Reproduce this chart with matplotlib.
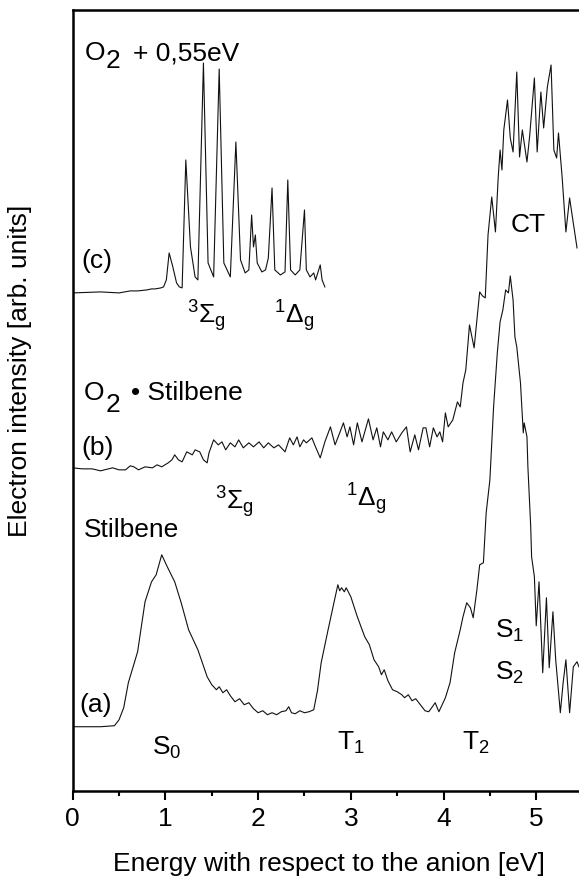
import matplotlib.pyplot as plt
from matplotlib.ticker import MultipleLocator

plt.rcParams['font.family'] = ['Liberation Sans', 'DejaVu Sans']
plt.rcParams['mathtext.fontset'] = 'custom'
plt.rcParams['mathtext.rm'] = 'Liberation Sans'
plt.rcParams['mathtext.it'] = 'Liberation Sans:italic'
plt.rcParams['mathtext.bf'] = 'Liberation Sans:bold'

# (a) stilbene anion photoelectron spectrum
stil_e = [0.00, 0.30, 0.45, 0.50, 0.55, 0.60, 0.70, 0.78, 0.85, 0.90, 0.96, 1.02,
          1.10, 1.17, 1.25, 1.35, 1.45, 1.50, 1.55, 1.58, 1.62, 1.66, 1.70, 1.75,
          1.80, 1.85, 1.90, 1.95, 2.00, 2.05, 2.10, 2.15, 2.20, 2.25, 2.30, 2.33,
          2.36, 2.40, 2.45, 2.50, 2.55, 2.60, 2.64, 2.68, 2.75, 2.82, 2.86, 2.88,
          2.90, 2.93, 2.95, 3.00, 3.07, 3.15, 3.20, 3.25, 3.30, 3.33, 3.36, 3.40,
          3.45, 3.50, 3.55, 3.58, 3.62, 3.66, 3.70, 3.75, 3.80, 3.84, 3.88, 3.91,
          3.95, 4.02, 4.07, 4.12, 4.18, 4.21, 4.25, 4.29, 4.32, 4.36, 4.39, 4.43,
          4.46, 4.50, 4.54, 4.58, 4.61, 4.64, 4.67, 4.70, 4.72, 4.75, 4.77, 4.79,
          4.83, 4.86, 4.87, 4.90, 4.91, 4.94, 4.95, 4.98, 5.00, 5.03, 5.07, 5.11,
          5.14, 5.18, 5.21, 5.26, 5.29, 5.32, 5.36, 5.40, 5.44, 5.46]
stil_i = [64, 64, 65, 71, 83, 108, 139, 189, 209, 216, 236, 224,
          209, 188, 161, 141, 114, 106, 101, 104, 98, 101, 95, 89,
          92, 86, 88, 82, 78, 80, 76, 78, 76, 79, 80, 84,
          78, 77, 80, 78, 79, 81, 100, 128, 159, 189, 206, 200,
          203, 199, 203, 194, 174, 154, 146, 131, 124, 116, 121, 110,
          101, 99, 96, 93, 96, 90, 92, 86, 80, 79, 84, 88,
          79, 93, 108, 138, 161, 174, 188, 183, 173, 201, 226, 228,
          278, 311, 384, 438, 469, 481, 501, 498, 515, 491, 454, 444,
          408, 358, 368, 354, 324, 265, 234, 214, 165, 209, 118, 193,
          123, 179, 131, 78, 108, 131, 78, 124, 129, 124]

# (b) O2-stilbene complex
o2stil_e = [0.00, 0.10, 0.21, 0.30, 0.43, 0.50, 0.57, 0.62, 0.66, 0.71, 0.78, 0.86,
            0.91, 0.96, 1.03, 1.07, 1.10, 1.14, 1.18, 1.23, 1.29, 1.32, 1.37, 1.41,
            1.45, 1.47, 1.52, 1.57, 1.61, 1.65, 1.70, 1.75, 1.79, 1.84, 1.90, 1.95,
            2.01, 2.06, 2.11, 2.17, 2.22, 2.29, 2.34, 2.38, 2.42, 2.45, 2.49, 2.52,
            2.58, 2.61, 2.67, 2.72, 2.78, 2.83, 2.88, 2.92, 2.96, 2.99, 3.03, 3.07,
            3.12, 3.19, 3.24, 3.28, 3.32, 3.35, 3.40, 3.44, 3.49, 3.55, 3.60, 3.64,
            3.69, 3.73, 3.78, 3.81, 3.85, 3.89, 3.93, 3.96, 3.99, 4.02, 4.05, 4.10,
            4.15, 4.18, 4.21, 4.24, 4.28, 4.33, 4.36, 4.39, 4.42, 4.45, 4.48, 4.52,
            4.56, 4.59, 4.61, 4.63, 4.65, 4.69, 4.72, 4.75, 4.79, 4.82, 4.85, 4.90,
            4.93, 4.98, 5.01, 5.05, 5.08, 5.12, 5.16, 5.19, 5.22, 5.24, 5.28, 5.32,
            5.36, 5.39, 5.44]
o2stil_i = [323, 322, 322, 320, 323, 321, 321, 325, 324, 321, 324, 323,
            326, 324, 328, 331, 336, 331, 329, 339, 336, 341, 339, 331,
            328, 338, 351, 346, 349, 341, 348, 344, 351, 343, 348, 344,
            349, 343, 348, 343, 346, 339, 353, 346, 354, 344, 351, 348,
            353, 346, 333, 349, 364, 346, 358, 368, 354, 364, 346, 368,
            349, 372, 351, 363, 344, 359, 351, 359, 349, 358, 364, 339,
            356, 341, 363, 363, 344, 363, 354, 359, 349, 378, 364, 371,
            389, 384, 408, 421, 466, 443, 471, 499, 495, 493, 556, 594,
            559, 614, 641, 621, 661, 691, 653, 639, 719, 634, 661, 629,
            656, 713, 639, 699, 663, 704, 726, 641, 633, 658, 613, 559,
            593, 574, 543]

# (c) free O2 shifted by 0.55 eV
o2_e = [0.00, 0.30, 0.50, 0.62, 0.70, 0.80, 0.85, 0.89, 0.95, 0.98, 1.01, 1.04,
        1.08, 1.12, 1.15, 1.18, 1.22, 1.27, 1.32, 1.35, 1.41, 1.46, 1.52, 1.58,
        1.63, 1.70, 1.76, 1.81, 1.86, 1.90, 1.93, 1.95, 1.97, 1.99, 2.04, 2.08,
        2.11, 2.15, 2.18, 2.24, 2.29, 2.32, 2.35, 2.40, 2.45, 2.50, 2.52, 2.56,
        2.60, 2.62, 2.67, 2.69, 2.72]
o2_i = [498, 499, 498, 500, 500, 501, 502, 502, 503, 504, 511, 538,
        524, 508, 504, 503, 631, 544, 514, 511, 728, 528, 514, 722,
        528, 514, 649, 531, 518, 521, 576, 544, 556, 528, 519, 521,
        533, 603, 521, 516, 519, 611, 521, 516, 521, 581, 521, 514,
        518, 511, 526, 511, 504]

fig = plt.figure(figsize=(5.79, 8.81), dpi=100)
ax = fig.add_axes([0.1256, 0.1025, 0.8806, 0.8861])

for e, i in [(stil_e, stil_i), (o2stil_e, o2stil_i), (o2_e, o2_i)]:
    ax.plot(e, i, color='#111111', lw=0.8)

ax.set_xlim(0, 5.5)
ax.set_ylim(0, 781)
ax.xaxis.set_major_locator(MultipleLocator(1))
ax.xaxis.set_minor_locator(MultipleLocator(0.5))
ax.set_yticks([])
ax.spines['right'].set_visible(False)
for s in ['left', 'top', 'bottom']:
    ax.spines[s].set_linewidth(1.8)
ax.tick_params(axis='x', which='major', direction='out', length=6.5, width=1.5,
               labelsize=19, pad=5)
ax.tick_params(axis='x', which='minor', direction='out', length=3.5, width=1.5)

fs = 19
kw = dict(fontsize=fs, va='baseline', ha='left', color='black')
# (c) labels
ax.text(0.133, 731, 'O', **kw)
ax.text(0.36, 723, '2', **kw)
ax.text(0.65, 731, '+ 0,55eV', **kw)
ax.text(0.09, 523, '(c)', **kw)
ax.text(1.233, 468, r'$\mathregular{^{3}\Sigma_{g}}$', **kw)
ax.text(2.17, 468, r'$\mathregular{^{1}\Delta_{g}}$', **kw)
ax.text(4.72, 559, 'CT', **kw)
# (b) labels
ax.text(0.12, 391, 'O', **kw)
ax.text(0.35, 379, '2', **kw)
ax.text(0.63, 391, '\u2022 Stilbene', **kw)
ax.text(0.09, 336, '(b)', **kw)
ax.text(1.535, 281, r'$\mathregular{^{3}\Sigma_{g}}$', **kw)
ax.text(2.95, 284, r'$\mathregular{^{1}\Delta_{g}}$', **kw)
# (a) labels
ax.text(0.12, 254, 'Stilbene', **kw)
ax.text(0.07, 79, '(a)', **kw)
ax.text(0.855, 36, r'$\mathregular{S_{0}}$', **kw)
ax.text(2.85, 41, r'$\mathregular{T_{1}}$', **kw)
ax.text(4.2, 41, r'$\mathregular{T_{2}}$', **kw)
ax.text(4.556, 153, r'$\mathregular{S_{1}}$', **kw)
ax.text(4.556, 111, r'$\mathregular{S_{2}}$', **kw)

fig.text(328.5 / 579, 1 - 864 / 881, 'Energy with respect to the anion [eV]',
         fontsize=fs, ha='center', va='center')
fig.text(20 / 579, 1 - 371 / 881, 'Electron intensity [arb. units]',
         fontsize=fs, ha='center', va='center', rotation=90)

fig.savefig('out.png', dpi=100)
